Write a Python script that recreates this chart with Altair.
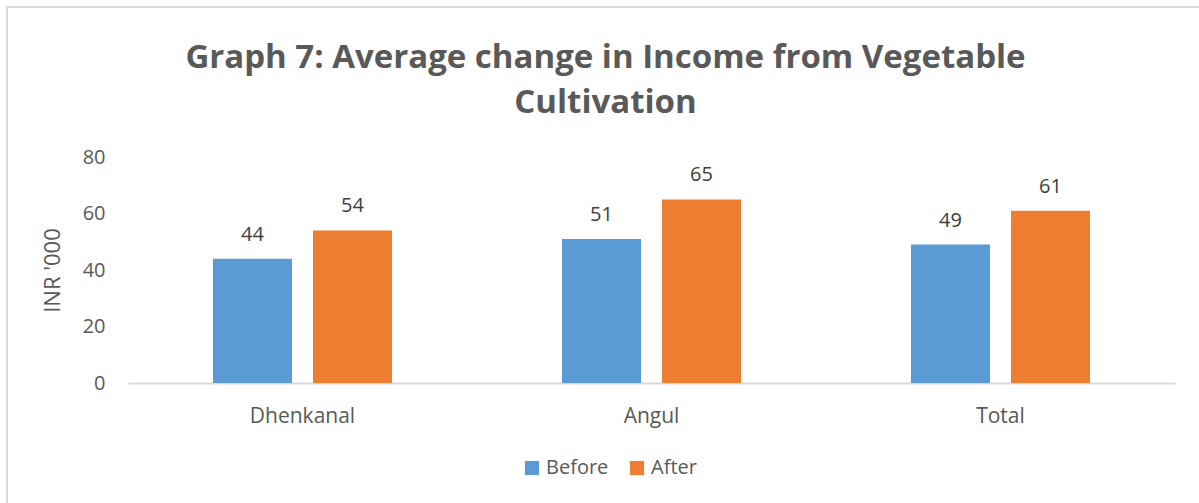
import altair as alt
import pandas as pd

categories = ["Dhenkanal", "Angul", "Total"]
series = ["Before", "After"]
before_values = [44, 51, 49]
after_values = [54, 65, 61]
colors = ["#5B9BD5", "#ED7D31"]

rows = []
for i, c in enumerate(categories):
    rows.append({"District": c, "Period": "Before", "Value": before_values[i]})
    rows.append({"District": c, "Period": "After", "Value": after_values[i]})
df = pd.DataFrame(rows)

FONT = "Open Sans"
TXT = "#595959"

x_enc = alt.X("District:N", sort=categories,
              scale=alt.Scale(paddingInner=0.487, paddingOuter=0.2435),
              axis=alt.Axis(title=None, labelAngle=0, labelFontSize=21, labelColor=TXT,
                            labelFont=FONT, labelPadding=22, ticks=False,
                            domainColor="#D9D9D9", domainWidth=2))
y_enc = alt.Y("Value:Q", scale=alt.Scale(domain=[0, 80]),
              axis=alt.Axis(title="INR '000", values=[0, 20, 40, 60, 80], grid=False,
                            domain=False, ticks=False, labelFontSize=20, labelColor=TXT,
                            labelFont=FONT, labelPadding=23, titleFont=FONT,
                            titleFontSize=22, titleColor=TXT, titleFontWeight="normal",
                            titlePadding=18))
xo = alt.XOffset("Period:N", sort=series, scale=alt.Scale(paddingInner=0.21))

base = alt.Chart(df)

bars = base.mark_bar().encode(
    x=x_enc, y=y_enc, xOffset=xo,
    color=alt.Color("Period:N", sort=series,
                    scale=alt.Scale(domain=series, range=colors),
                    legend=alt.Legend(title=None, orient="none", direction="horizontal",
                                      legendX=394, legendY=301,
                                      symbolType="square", symbolSize=200,
                                      labelFontSize=20, labelFont=FONT, labelColor=TXT,
                                      labelOffset=4, columnPadding=18,
                                      symbolStrokeWidth=0)),
)

labels = base.mark_text(baseline="bottom", dy=-14, fontSize=20, font=FONT,
                        color="#404040").encode(
    x=alt.X("District:N", sort=categories), y="Value:Q", xOffset=xo,
    text=alt.Text("Value:Q", format=".0f"),
)

border = base.mark_rect(fill=None, stroke="#D9D9D9", strokeWidth=2).encode(
    x=alt.value(-121), x2=alt.value(1200), y=alt.value(-150), y2=alt.value(500)
)

chart = alt.layer(border, bars, labels).properties(
    width=1047, height=226,
    background="white",
    title=alt.TitleParams(
        text=["Graph 7: Average change in Income from Vegetable", "Cultivation"],
        font=FONT, fontSize=33, fontWeight="bold", color=TXT, anchor="middle",
        frame="group", dx=-46, offset=-147, lineHeight=45, baseline="bottom"),
    autosize=alt.AutoSizeParams(type="none"),
    padding={"left": 128, "top": 157, "right": 24, "bottom": 120},
).configure_view(strokeWidth=0, stroke="transparent")

chart.save("out.html", embed_options={"renderer": "svg", "actions": False})
